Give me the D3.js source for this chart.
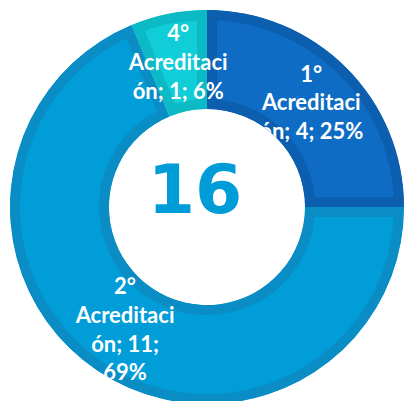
<!DOCTYPE html>
<html>
<head>
<meta charset="utf-8">
<script src="https://cdn.jsdelivr.net/npm/d3@7"></script>
<style>
  html, body { margin: 0; padding: 0; background: #fff; }
  svg { display: block; }
</style>
</head>
<body>
<script>
// donut: accreditations per level
const categories = ['1° Acreditación', '2° Acreditación', '4° Acreditación'];
const values = [4, 11, 1];
const labelLines = [
    ['1°', 'Acreditaci', 'ón; 4; 25%'],
    ['2°', 'Acreditaci', 'ón; 11;', '69%'],
    ['4°', 'Acreditaci', 'ón; 1; 6%']
];
const fills = ['#0E6CC5', '#009DD9', '#10CDD8'];
const borders = ['#0C5EAE', '#0A8DC4', '#0CBAC6'];

const width = 404;
const height = 401;
const cx = 207, cy = 207;
const outerR = 197, innerR = 98;

const svg = d3.select('body').append('svg')
    .attr('width', width)
    .attr('height', height);

const defs = svg.append('defs');

const pie = d3.pie().sort(null).value(d => d.value);
const data = pie(categories.map((c, i) => ({ name: c, value: values[i], i: i })));

const arc = d3.arc().innerRadius(innerR).outerRadius(outerR);
const labelArc = d3.arc().innerRadius(147.5).outerRadius(147.5);

const g = svg.append('g')
    .attr('transform', 'translate(' + cx + ',' + cy + ')');

// each slice gets a clip so the darker stroke sits inside its own edge
data.forEach((d, k) => {
    defs.append('clipPath')
        .attr('id', 'slice' + k)
        .append('path')
        .attr('d', arc(d));
});

g.selectAll('path.slice')
    .data(data)
    .enter().append('path')
    .attr('class', 'slice')
    .attr('d', arc)
    .attr('clip-path', (d, k) => 'url(#slice' + k + ')')
    .attr('fill', d => fills[d.data.i])
    .attr('stroke', d => borders[d.data.i])
    .attr('stroke-width', 20);

// labels are clipped to the ring
defs.append('clipPath')
    .attr('id', 'ring')
    .append('path')
    .attr('d', arc({ startAngle: 0, endAngle: 2 * Math.PI }));

const lh = 28.6;
const labels = g.append('g')
    .attr('clip-path', 'url(#ring)')
    .selectAll('text')
    .data(data)
    .enter().append('text')
    .attr('text-anchor', 'middle')
    .attr('fill', '#fff')
    .style('font-family', 'Lato, "Open Sans", sans-serif')
    .style('font-weight', 'bold')
    .style('font-size', '22px');

labels.each(function(d) {
    const c = labelArc.centroid(d);
    const lines = labelLines[d.data.i];
    const n = lines.length;
    d3.select(this).selectAll('tspan')
        .data(lines)
        .enter().append('tspan')
        .attr('x', c[0])
        .attr('y', (t, j) => c[1] + (j - (n - 1) / 2) * lh + 7.7)
        .text(t => t);
});

// total in the middle
svg.append('text')
    .attr('x', cx - 12)
    .attr('y', 213)
    .attr('text-anchor', 'middle')
    .attr('fill', '#009CD8')
    .style('font-family', '"DejaVu Sans", Verdana, sans-serif')
    .style('font-weight', 'bold')
    .style('font-size', '68px')
    .text(d3.sum(values));
</script>
</body>
</html>
